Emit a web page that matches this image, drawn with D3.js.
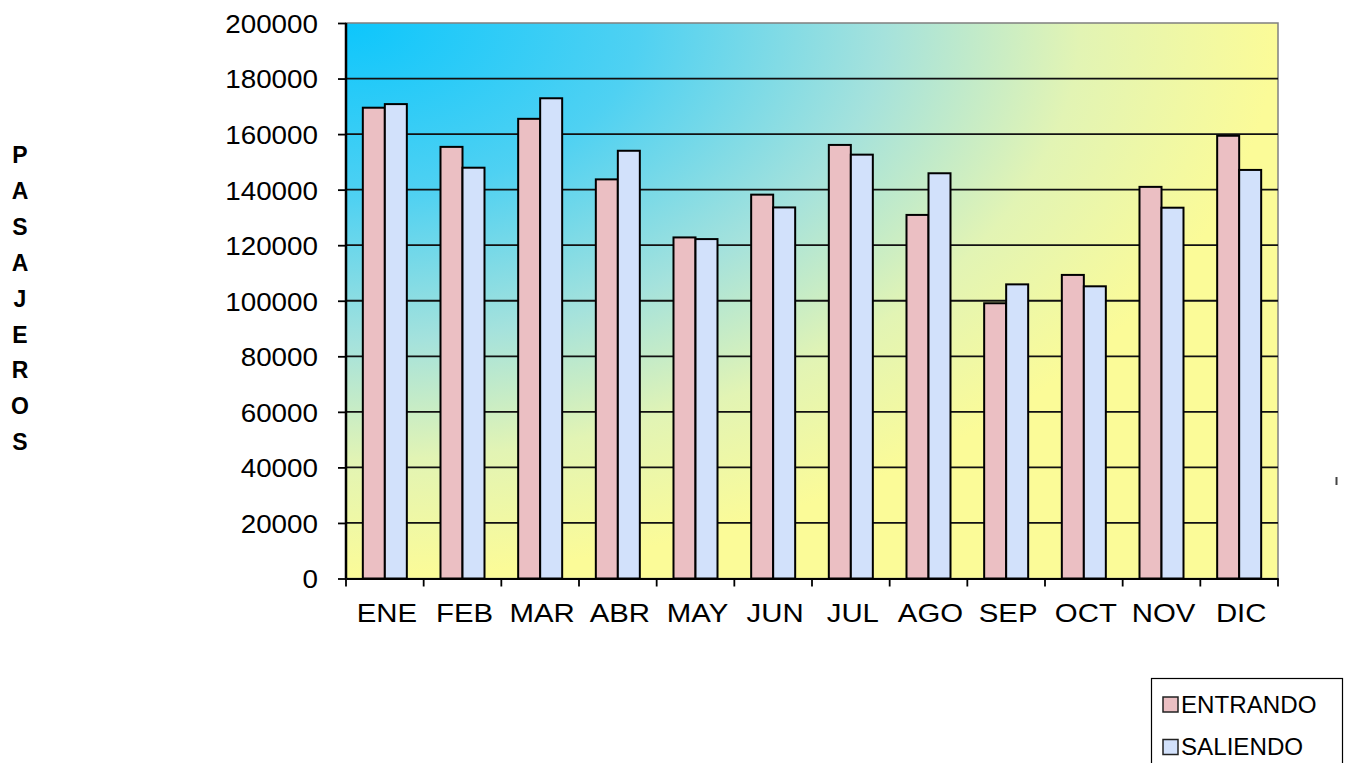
<!DOCTYPE html>
<html>
<head>
<meta charset="utf-8">
<script src="https://cdn.jsdelivr.net/npm/d3@7"></script>
<style>
  body { margin: 0; background: #fff; }
  text { font-family: "Liberation Sans", Arial, sans-serif; }
</style>
</head>
<body>
<div id="chart"></div>
<script>
// Data
const months = ['ENE', 'FEB', 'MAR', 'ABR', 'MAY', 'JUN', 'JUL', 'AGO', 'SEP', 'OCT', 'NOV', 'DIC']
const entrando = [169500, 155400, 165500, 143700, 122800, 138200, 156100, 130900, 99100, 109300, 141000, 159400]
const saliendo = [170800, 147900, 172900, 154000, 122200, 133600, 152600, 145900, 105900, 105200, 133500, 147100]
const seriesNames = ['ENTRANDO', 'SALIENDO']
const yTicks = [0, 20000, 40000, 60000, 80000, 100000, 120000, 140000, 160000, 180000, 200000]
const axisTitle = 'PASAJEROS'

const dataset = months.map((m, i) => ({ month: m, ENTRANDO: entrando[i], SALIENDO: saliendo[i] }))
const colors = { ENTRANDO: '#ebbfc3', SALIENDO: '#d2e1fb' }

// Dimensions
let dimensions = {
    width: 1346,
    height: 763,
    margin: { top: 23, bottom: 184.5, left: 346, right: 68 }
}
dimensions.ctrWidth = dimensions.width - dimensions.margin.left - dimensions.margin.right
dimensions.ctrHeight = dimensions.height - dimensions.margin.top - dimensions.margin.bottom

const svg = d3.select('#chart')
    .append('svg')
    .attr('width', dimensions.width)
    .attr('height', dimensions.height)

// background gradient (cyan corner to yellow)
const defs = svg.append('defs')
const grad = defs.append('radialGradient')
    .attr('id', 'bg')
    .attr('cx', 0).attr('cy', 0).attr('fx', 0).attr('fy', 0).attr('r', 1.05)
const stops = [[0, '#0dc6fc'], [0.3, '#4fd1f2'], [0.55, '#a5e2dc'], [0.75, '#e2f4b4'], [0.95, '#fbfb98'], [1, '#fbfb98']]
stops.forEach(s => grad.append('stop').attr('offset', s[0]).attr('stop-color', s[1]))

const ctr = svg.append('g')
    .attr('transform', `translate(${dimensions.margin.left},${dimensions.margin.top})`)

// Scales
const xScale = d3.scaleBand()
    .domain(months)
    .range([0, dimensions.ctrWidth])
    .padding(0)

const xSub = d3.scaleBand()
    .domain(seriesNames)
    .range([0, xScale.bandwidth()])
    .paddingInner(0)
    .paddingOuter(0.765)

const yScale = d3.scaleLinear()
    .domain([0, 200000])
    .range([dimensions.ctrHeight, 0])

// plot area
ctr.append('rect')
    .attr('width', dimensions.ctrWidth)
    .attr('height', dimensions.ctrHeight)
    .attr('fill', 'url(#bg)')
    .attr('stroke', '#808080')
    .attr('stroke-width', 1.5)

// gridlines
ctr.append('g')
    .selectAll('line')
    .data(yTicks.filter(d => d > 0 && d < 200000))
    .join('line')
    .attr('x1', 0)
    .attr('x2', dimensions.ctrWidth)
    .attr('y1', d => yScale(d))
    .attr('y2', d => yScale(d))
    .attr('stroke', '#111')
    .attr('stroke-width', 1.8)

// bars
ctr.append('g')
    .selectAll('g')
    .data(dataset)
    .join('g')
    .attr('transform', d => `translate(${xScale(d.month)},0)`)
    .selectAll('rect')
    .data(d => seriesNames.map(s => ({ key: s, value: d[s] })))
    .join('rect')
    .attr('x', d => xSub(d.key))
    .attr('y', d => yScale(d.value))
    .attr('width', xSub.bandwidth())
    .attr('height', d => dimensions.ctrHeight - yScale(d.value))
    .attr('fill', d => colors[d.key])
    .attr('stroke', '#000')
    .attr('stroke-width', 2)

// Axes
const yAxis = d3.axisLeft(yScale)
    .tickValues(yTicks)
    .tickSize(8)
    .tickFormat(d => d)
const yAxisGroup = ctr.append('g').call(yAxis)
yAxisGroup.select('.domain').attr('stroke-width', 2.5).attr('d', `M0,0V${dimensions.ctrHeight}`)
yAxisGroup.selectAll('.tick line').attr('stroke-width', 1.8)
// glyphs in the original are a bit wider than Arial, so stretch them
yAxisGroup.selectAll('text')
    .attr('x', 0)
    .attr('transform', 'translate(-28,0) scale(1.07,1)')
    .attr('font-size', 26)
    .attr('fill', '#000')
    .attr('dy', '0.36em')

const xAxis = d3.axisBottom(xScale).tickSize(0).tickPadding(24)
const xAxisGroup = ctr.append('g')
    .attr('transform', `translate(0,${dimensions.ctrHeight})`)
    .call(xAxis)
xAxisGroup.select('.domain').attr('stroke-width', 2.2)
xAxisGroup.selectAll('text')
    .attr('font-size', 26)
    .attr('transform', 'translate(2,0) scale(1.13,1)')
    .attr('fill', '#000')
    .attr('dy', '0.75em')

// x ticks at category boundaries
xAxisGroup.append('g')
    .selectAll('line')
    .data(d3.range(months.length + 1))
    .join('line')
    .attr('x1', i => i * xScale.step())
    .attr('x2', i => i * xScale.step())
    .attr('y1', 0)
    .attr('y2', 8)
    .attr('stroke', '#000')
    .attr('stroke-width', 1.8)

// vertical axis title, one letter per line
svg.append('g')
    .selectAll('text')
    .data(axisTitle.split(''))
    .join('text')
    .attr('x', 20)
    .attr('y', (d, i) => 163 + i * 35.9)
    .attr('text-anchor', 'middle')
    .attr('font-size', 23)
    .attr('font-weight', 'bold')
    .attr('fill', '#000')
    .text(d => d)

// small mark at right
svg.append('rect')
    .attr('x', 1335.5).attr('y', 477).attr('width', 2).attr('height', 8)
    .attr('fill', '#444')

// Legend
const legend = svg.append('g')
legend.append('rect')
    .attr('x', 1151.5).attr('y', 678.5)
    .attr('width', 191).attr('height', 100)
    .attr('fill', '#fff')
    .attr('stroke', '#000')
    .attr('stroke-width', 1.2)
const items = legend.selectAll('g.item')
    .data(seriesNames)
    .join('g')
    .attr('class', 'item')
    .attr('transform', (d, i) => `translate(1163,${697 + i * 42.5})`)
items.append('rect')
    .attr('width', 15).attr('height', 15)
    .attr('fill', d => colors[d])
    .attr('stroke', '#222')
    .attr('stroke-width', 1.5)
items.append('text')
    .attr('transform', 'translate(18,7.5) scale(1.05,1)')
    .attr('dy', '0.36em')
    .attr('font-size', 23)
    .attr('fill', '#000')
    .text(d => d)
</script>
</body>
</html>
